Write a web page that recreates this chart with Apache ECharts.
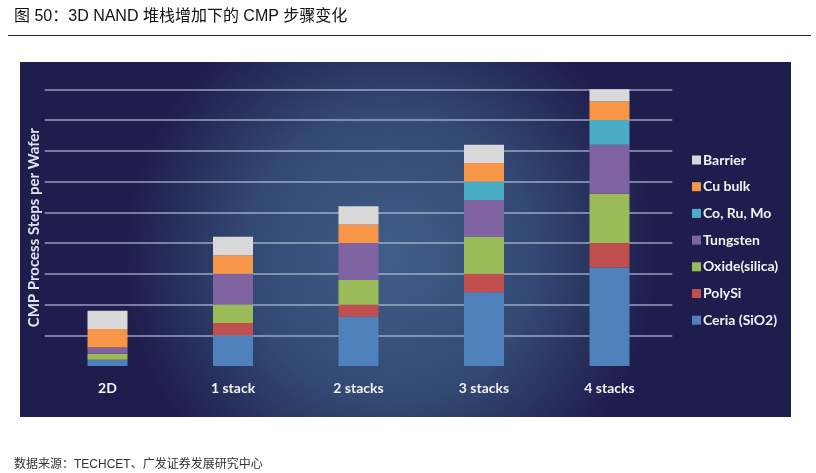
<!DOCTYPE html>
<html>
<head>
<meta charset="utf-8">
<script src="https://cdn.jsdelivr.net/npm/echarts@6/dist/echarts.min.js"></script>
<style>
  html, body { margin: 0; padding: 0; background: #fff; }
  #chart { width: 816px; height: 473px; }
</style>
</head>
<body>
<div id="chart"></div>
<script>
// CMP steps per wafer (one gridline = 5 steps)
const categories = ['2D', '1 stack', '2 stacks', '3 stacks', '4 stacks']
const ceria = [1, 5, 8, 12, 16]
const polySi = [0, 2, 2, 3, 4]
const oxide = [1, 3, 4, 6, 8]
const tungsten = [1, 5, 6, 6, 8]
const coRuMo = [0, 0, 0, 3, 4]
const cuBulk = [3, 3, 3, 3, 3]
const barrier = [3, 3, 3, 3, 2]

const seriesNames = ['Ceria (SiO2)', 'PolySi', 'Oxide(silica)', 'Tungsten', 'Co, Ru, Mo', 'Cu bulk', 'Barrier']
const seriesData = [ceria, polySi, oxide, tungsten, coRuMo, cuBulk, barrier]
const colors = ['#4f81bd', '#c0504d', '#9bbb59', '#8064a2', '#4bacc6', '#f79646', '#d9d9d9']

const chart = echarts.init(document.getElementById('chart'))

const font = 'Lato, "Open Sans", sans-serif'

chart.setOption({
  animation: false,
  title: [
    {
      text: '图 50：3D NAND 堆栈增加下的 CMP 步骤变化',
      left: 9,
      top: 4,
      textStyle: {
        fontSize: 16,
        fontWeight: 'normal',
        color: '#111',
        fontFamily: '"Liberation Sans", "Noto Sans CJK SC", sans-serif'
      }
    },
    {
      text: '数据来源：TECHCET、广发证券发展研究中心',
      left: 9,
      top: 454,
      textStyle: {
        fontSize: 12,
        fontWeight: 'normal',
        color: '#333',
        fontFamily: '"Liberation Sans", "Noto Sans CJK SC", sans-serif'
      }
    }
  ],
  graphic: [
    {
      type: 'line',
      silent: true,
      z: -1,
      shape: { x1: 8, y1: 35.5, x2: 811, y2: 35.5 },
      style: { stroke: '#222', lineWidth: 1.2 }
    },
    {
      type: 'rect',
      silent: true,
      z: -10,
      shape: { x: 20, y: 62, width: 771, height: 355 },
      style: {
        fill: new echarts.graphic.RadialGradient(0.48, 0.55, 0.75, [
          { offset: 0, color: '#405e88' },
          { offset: 0.55, color: '#334872' },
          { offset: 1, color: '#1f1d4d' }
        ])
      }
    }
  ],
  legend: {
    orient: 'vertical',
    left: 692,
    top: 152,
    padding: 0,
    itemWidth: 9,
    itemHeight: 9,
    itemGap: 10.7,
    icon: 'rect',
    data: seriesNames.slice().reverse(),
    textStyle: {
      color: '#f2f2f2',
      fontSize: 14,
      fontWeight: 'bold',
      fontFamily: font,
      lineHeight: 16,
      padding: [0, 0, 0, -3]
    }
  },
  grid: {
    left: 44.75,
    right: 143.75,
    top: 89.3,
    bottom: 107
  },
  xAxis: {
    type: 'category',
    data: categories,
    axisLine: { show: false },
    axisTick: { show: false },
    axisLabel: {
      margin: 15,
      color: '#f2f2f2',
      fontSize: 14,
      fontWeight: 'bold',
      fontFamily: font
    }
  },
  yAxis: {
    type: 'value',
    min: 0,
    max: 45,
    interval: 5,
    name: 'CMP Process Steps per Wafer',
    nameLocation: 'middle',
    nameGap: 3,
    nameTextStyle: {
      color: '#dfe3ec',
      fontSize: 15,
      fontWeight: 'bold',
      fontFamily: font
    },
    axisLine: { show: false },
    axisTick: { show: false },
    axisLabel: { show: false },
    splitLine: {
      showMinLine: false,
      lineStyle: { color: 'rgba(190,200,225,0.75)', width: 1.5 }
    }
  },
  series: seriesNames.map((name, i) => ({
    name,
    type: 'bar',
    stack: 'cmp',
    barWidth: 40,
    data: seriesData[i],
    itemStyle: { color: colors[i] }
  }))
})
</script>
</body>
</html>
